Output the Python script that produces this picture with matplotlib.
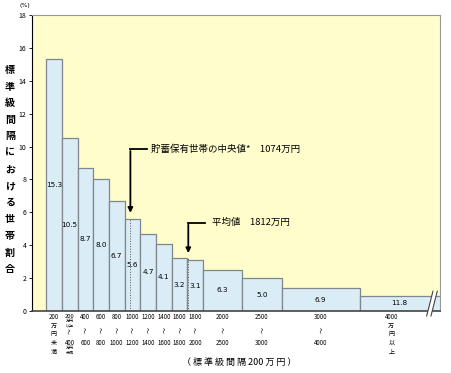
import matplotlib
matplotlib.use("Agg")
import matplotlib.pyplot as plt
from matplotlib.patches import Polygon

plt.rcParams['font.family'] = ['Noto Sans CJK JP', 'DejaVu Sans']

# class edges (万円), last class is open ended
edges = [0, 200, 400, 600, 800, 1000, 1200, 1400, 1600, 1800, 2000, 2500, 3000, 4000, 5200]
# bar heights = share per 200万円 interval (%)
heights = [15.3, 10.5, 8.7, 8.0, 6.7, 5.6, 4.7, 4.1, 3.2, 3.1, 2.52, 2.0, 1.38, 0.93]
# printed shares (%)
shares = ["15.3", "10.5", "8.7", "8.0", "6.7", "5.6", "4.7", "4.1", "3.2", "3.1", "6.3", "5.0", "6.9", "11.8"]
median_val = 1074
mean_val = 1812
ylabel_chars = list("標準級間隔における世帯割合")

fig = plt.figure(figsize=(4.51, 3.73), dpi=100)
ax = fig.add_axes([32/451, 62/373, 408/451, 296/373])
ax.set_facecolor('#FFFDCC')

for i in range(len(heights)):
    ax.bar(edges[i], heights[i], width=edges[i+1]-edges[i], align='edge',
           color='#DAECF6', edgecolor='#7d878c', linewidth=0.9, zorder=2)
    ax.text((edges[i] + min(edges[i+1], 5000)) / 2, heights[i] / 2, shares[i],
            ha='center', va='center', fontsize=5.2, family='DejaVu Sans', zorder=3)

ax.set_xlim(-180, 5020)
ax.set_ylim(0, 18)
ax.set_yticks(range(0, 19, 2))
ax.tick_params(axis='y', labelsize=5, length=2, width=0.6, pad=2)
ax.set_xticks([])
for s in ['top', 'right']:
    ax.spines[s].set_color('#999999')
ax.spines['left'].set_color('black')
ax.spines['bottom'].set_color('#444444')
ax.spines['bottom'].set_linewidth(1.2)

# dotted lines at median and mean
ax.plot([median_val, median_val], [0, 5.6], ls=':', color='#555555', lw=0.7, zorder=3)
ax.plot([mean_val, mean_val], [0, 3.2], ls=':', color='#555555', lw=0.7, zorder=3)

# median arrow
ax.plot([median_val, 1283], [9.85, 9.85], color='black', lw=1.3, zorder=4)
ax.annotate('', xy=(median_val, 5.8), xytext=(median_val, 9.9),
            arrowprops=dict(arrowstyle='-|>', color='black', lw=1.3, mutation_scale=7), zorder=4)
ax.text(1335, 9.85, '貯蓄保有世帯の中央値*　1074万円', fontsize=6.8, va='center', ha='left')

# mean arrow
ax.plot([mean_val, 2025], [5.37, 5.37], color='black', lw=1.3, zorder=4)
ax.annotate('', xy=(mean_val, 3.35), xytext=(mean_val, 5.42),
            arrowprops=dict(arrowstyle='-|>', color='black', lw=1.3, mutation_scale=7), zorder=4)
ax.text(2110, 5.37, '平均値　1812万円', fontsize=6.8, va='center', ha='left')

# break mark on the open ended class
brk = Polygon([[4850, -0.3], [4905, -0.3], [4985, 1.2], [4930, 1.2]], closed=True,
              facecolor='white', edgecolor='none', clip_on=False, zorder=5)
ax.add_patch(brk)
ax.plot([4850, 4930], [-0.3, 1.2], color='#444444', lw=0.8, clip_on=False, zorder=6)
ax.plot([4905, 4985], [-0.3, 1.2], color='#444444', lw=0.8, clip_on=False, zorder=6)

# x class labels (pixel offsets below the axis)
def xlab(x, txt, dy, size=4.4, rot=0):
    ax.annotate(txt, xy=(x, 0), xycoords=('data', 'axes fraction'),
                xytext=(0, -dy), textcoords='offset pixels',
                ha='center', va='center', fontsize=size, rotation=rot)

wave = '～'
for i, ch in enumerate(['200', '万', '円', '未', '満']):
    xlab(100, ch, 6 + i * 8.7)
xlab(300, '200', 5.5, 4.2)
xlab(300, '万円', 10.3, 2.9)
xlab(300, '以上', 14.3, 2.9)
xlab(300, wave, 20, 4.2, 90)
xlab(300, '400', 32)
xlab(300, '万円', 37, 2.9)
xlab(300, '未満', 41.5, 2.9)
for i in range(2, 13):
    xc = (edges[i] + edges[i+1]) / 2
    xlab(xc, str(edges[i]), 6)
    xlab(xc, wave, 19, 4.4, 90)
    xlab(xc, str(edges[i+1]), 32)
for i, ch in enumerate(['4000', '万', '円', '以', '上']):
    xlab(4400, ch, 6 + i * 8.7)

ax.annotate('（ 標 準 級 間 隔 200 万 円 ）', xy=(2459, 0), xycoords=('data', 'axes fraction'),
            xytext=(0, -51), textcoords='offset pixels', ha='center', va='center', fontsize=6.5)

# vertical y label
for i, ch in enumerate(ylabel_chars):
    fig.text(10/451, 1 - (70 + i * 16.6) / 373, ch, ha='center', va='center',
             fontsize=7.2, fontweight='bold')
fig.text(25/451, 1 - 5/373, '(%)', ha='center', va='center', fontsize=4.5, family='DejaVu Sans')

fig.savefig('out.png', dpi=100)
